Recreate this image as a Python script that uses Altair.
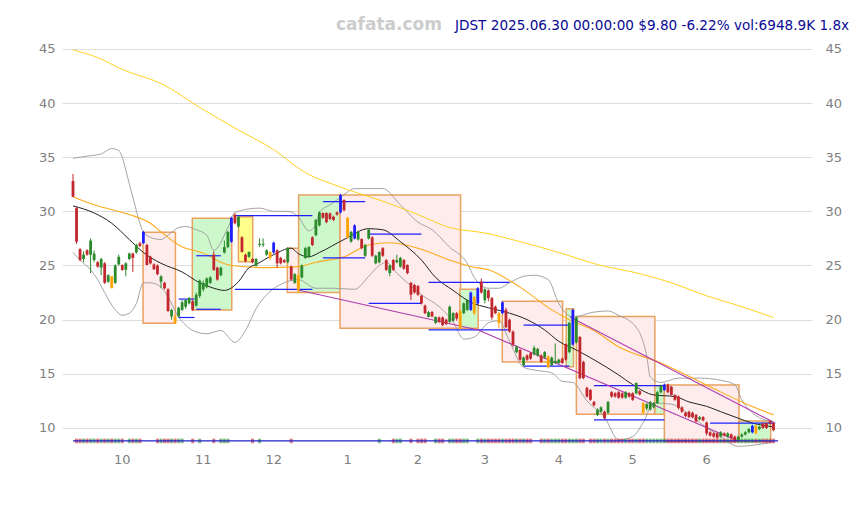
import altair as alt
import pandas as pd

# ---------------- data ----------------
opens = [32.8, 30.3, 26.5, 25.6, 26.4, 26.0, 25.5, 25.3, 24.8, 25.2,
         23.5, 24.0, 23.4, 25.1, 25.05, 24.6, 25.6, 26.1, 26.2, 27.05,
         27.05, 26.9, 25.8, 25.1, 25.0, 23.5, 23.4, 22.8, 20.3, 20.3,
         20.3, 20.9, 21.2, 21.5, 21.7, 21.3, 22.2, 22.8, 23.0, 23.4,
         26.0, 24.8, 24.1, 26.2, 26.7, 27.2, 29.7, 28.6, 27.6, 26.0,
         25.8, 25.6, 24.96, 26.9, 26.9, 26.0, 26.25, 26.2, 26.4, 25.7,
         25.5, 25.3, 24.9, 23.4, 24.1, 23.9, 25.7, 25.8, 27.6, 27.8,
         28.7, 29.85, 29.85, 29.8, 29.5, 29.9, 29.9, 31.05, 29.4, 27.2,
         27.5, 27.4, 27.45, 25.9, 27.5, 27.6, 25.2, 25.3, 26.6, 25.5,
         24.3, 25.5, 25.3, 24.9, 25.5, 25.05, 23.4, 23.2, 23.1, 22.2,
         21.3, 20.25, 20.7, 19.7, 20.2, 20.2, 20.0, 19.8, 19.9, 20.6,
         20.8, 20.6, 20.9, 20.9, 22.1, 21.5, 23.5, 21.8, 22.7, 22.0,
         21.2, 20.6, 20.6, 20.9, 20.0, 18.9, 17.0, 17.2, 15.8, 16.7,
         16.9, 16.8, 16.7, 16.7, 16.5, 16.6, 15.8, 16.0, 16.0, 16.4,
         17.75, 17.0, 17.7, 17.9, 18.4, 16.1, 13.7, 13.5, 12.4, 11.2,
         11.5, 11.5, 11.4, 13.3, 13.2, 13.3, 13.2, 12.8, 13.2, 13.2,
         13.2, 13.4, 12.3, 11.8, 11.7, 11.9, 12.3, 13.3, 13.5, 14.0,
         13.8, 13.05, 12.9, 11.9, 11.4, 11.5, 11.4, 11.2, 10.8, 11.0,
         10.5, 9.6, 9.5, 9.5, 9.2, 9.5, 9.2, 9.4, 9.2, 8.9,
         9.2, 9.4, 9.6, 9.6, 10.2, 9.9, 10.4, 10.45, 10.6, 10.45]

closes = [31.35, 27.2, 25.5, 26.0, 26.0, 27.3, 26.1, 24.9, 25.6, 23.4,
          24.1, 22.9, 25.0, 25.8, 24.6, 25.2, 26.1, 25.7, 26.9, 26.8,
          28.1, 25.05, 25.2, 24.65, 24.2, 24.0, 22.9, 20.8, 20.9, 19.7,
          21.1, 21.6, 21.8, 22.0, 20.9, 22.3, 23.6, 23.4, 23.8, 23.9,
          24.6, 23.7, 24.8, 26.7, 28.1, 29.4, 28.9, 29.5, 26.25, 25.4,
          26.25, 25.3, 25.6, 27.0, 27.0, 26.4, 25.7, 27.1, 25.2, 25.2,
          25.3, 26.6, 23.7, 24.2, 22.7, 25.0, 26.6, 26.7, 26.9, 29.2,
          29.9, 29.4, 29.0, 29.3, 29.2, 29.7, 31.5, 30.1, 27.6, 28.1,
          28.7, 28.1, 26.6, 26.9, 28.3, 25.9, 25.9, 26.25, 25.9, 24.6,
          25.0, 24.6, 25.5, 25.7, 24.7, 24.3, 22.3, 22.5, 22.3, 21.5,
          20.6, 20.7, 20.3, 20.25, 19.8, 19.5, 19.6, 21.2, 20.6, 20.1,
          19.3, 21.5, 21.8, 22.5, 20.6, 22.9, 22.5, 22.8, 22.0, 20.2,
          20.6, 19.7, 21.6, 19.3, 18.9, 17.7, 17.5, 16.3, 16.5, 16.3,
          16.4, 17.4, 17.3, 16.1, 17.0, 15.6, 16.5, 16.2, 16.3, 16.0,
          16.3, 19.7, 20.9, 20.2, 14.6, 14.6, 12.9, 12.6, 12.1, 11.7,
          11.9, 10.9, 12.4, 12.9, 12.9, 12.8, 12.8, 13.3, 12.9, 12.6,
          14.15, 13.1, 11.4, 12.2, 12.4, 12.3, 13.3, 13.9, 14.0, 13.3,
          13.05, 12.6, 11.85, 11.5, 11.1, 11.0, 11.0, 10.6, 11.0, 10.7,
          9.5, 9.3, 9.2, 9.1, 9.6, 9.3, 9.5, 9.1, 8.8, 9.2,
          9.4, 9.6, 9.9, 10.2, 9.5, 10.1, 10.0, 10.0, 10.45, 9.8]

highs = [33.45, 30.4, 26.6, 26.3, 26.5, 27.5, 26.4, 25.4, 25.7, 25.3,
         24.2, 24.0, 25.1, 26.0, 25.1, 25.3, 26.2, 26.2, 27.0, 27.2,
         28.2, 27.0, 25.9, 25.2, 25.1, 24.1, 23.5, 22.9, 21.0, 20.4,
         21.2, 21.8, 21.9, 22.1, 21.8, 22.5, 23.7, 23.6, 23.9, 24.0,
         26.3, 24.9, 24.9, 27.3, 28.2, 29.5, 29.8, 29.6, 27.7, 26.1,
         26.3, 25.7, 25.7, 27.5, 27.5, 26.5, 26.3, 27.2, 26.5, 25.8,
         25.6, 26.7, 25.0, 24.3, 24.2, 25.1, 26.7, 26.8, 27.7, 29.3,
         30.0, 29.9, 29.9, 29.9, 29.6, 30.0, 31.6, 31.1, 29.5, 28.2,
         28.8, 28.2, 27.5, 27.0, 28.4, 27.7, 26.0, 26.3, 26.7, 25.6,
         25.1, 25.6, 26.0, 25.8, 25.6, 25.1, 23.5, 23.3, 23.2, 22.3,
         21.4, 20.8, 20.8, 20.3, 20.3, 20.3, 20.1, 21.3, 20.7, 20.7,
         20.9, 21.6, 21.9, 22.6, 22.2, 23.0, 23.8, 22.9, 22.8, 22.1,
         21.3, 20.7, 21.7, 21.1, 20.1, 19.0, 17.6, 17.3, 16.6, 16.8,
         17.0, 17.6, 17.4, 16.8, 17.1, 16.7, 16.6, 17.8, 16.4, 16.5,
         17.8, 19.8, 21.0, 20.3, 18.5, 16.2, 13.8, 13.6, 12.5, 11.8,
         12.0, 11.6, 12.5, 13.4, 13.3, 13.4, 13.3, 13.4, 13.3, 13.3,
         14.2, 13.5, 12.4, 12.3, 12.5, 12.4, 13.4, 14.0, 14.1, 14.1,
         13.9, 13.1, 13.0, 12.0, 11.5, 11.6, 11.5, 11.3, 11.1, 11.1,
         10.6, 9.7, 9.6, 9.6, 9.7, 9.6, 9.6, 9.5, 9.3, 9.3,
         9.5, 9.7, 10.0, 10.3, 10.3, 10.2, 10.5, 10.5, 10.7, 10.55]

lows = [31.3, 27.0, 25.4, 25.3, 25.9, 24.3, 25.3, 24.8, 24.1, 23.3,
        23.4, 22.9, 23.3, 25.0, 24.5, 24.0, 25.5, 24.4, 26.1, 26.7,
        27.0, 25.0, 25.1, 24.6, 24.1, 22.9, 22.8, 20.7, 20.0, 19.6,
        20.2, 20.8, 21.0, 21.4, 20.8, 21.2, 22.0, 22.6, 22.9, 23.3,
        24.5, 23.6, 24.0, 26.1, 26.6, 27.1, 28.8, 28.5, 26.2, 25.3,
        25.7, 25.2, 24.9, 26.7, 26.7, 25.9, 25.5, 26.1, 24.8, 25.1,
        25.2, 25.2, 23.6, 23.3, 22.5, 23.8, 25.6, 25.7, 26.8, 27.7,
        28.6, 29.3, 28.9, 29.2, 29.1, 29.6, 29.8, 30.0, 27.5, 27.1,
        27.4, 27.3, 26.5, 25.8, 27.4, 25.8, 25.1, 25.2, 25.8, 24.5,
        24.0, 24.5, 25.2, 24.8, 24.6, 24.2, 21.8, 22.4, 22.2, 21.4,
        20.5, 20.2, 20.2, 19.6, 19.7, 19.4, 19.5, 19.7, 19.8, 19.9,
        19.1, 20.5, 20.8, 20.8, 20.4, 21.4, 22.4, 21.5, 21.7, 20.0,
        20.5, 19.2, 20.5, 19.2, 18.8, 17.5, 16.9, 16.2, 15.7, 16.2,
        16.3, 16.7, 16.6, 16.0, 16.4, 15.5, 15.7, 15.9, 15.9, 15.9,
        16.2, 16.9, 17.6, 17.8, 14.5, 14.5, 12.8, 12.5, 12.0, 11.1,
        11.4, 10.8, 11.3, 12.8, 12.8, 12.7, 12.7, 12.7, 12.8, 12.5,
        13.1, 13.0, 11.3, 11.6, 11.6, 11.8, 12.2, 13.2, 13.4, 13.2,
        13.0, 12.5, 11.7, 11.4, 11.0, 10.9, 10.9, 10.5, 10.7, 10.6,
        9.3, 9.2, 9.1, 9.0, 9.1, 9.2, 9.1, 9.0, 8.7, 8.8,
        9.1, 9.3, 9.5, 9.5, 9.4, 9.8, 9.9, 9.9, 10.3, 9.7]

blue_idx = [20, 45, 57, 76, 80, 113, 115, 122, 142, 168, 193]
orange_idx = [11, 29, 56, 64, 78, 110, 114, 121, 135, 162, 194]

# moving averages / bands, read at sample bars
ma20_i = [0, 6, 11, 16, 20, 25, 31, 36, 40, 43, 47, 50, 52, 57, 62, 64, 67, 70, 77, 84, 88, 93, 99, 103,
          108, 113, 118, 124, 129, 134, 138, 143, 148, 155, 159, 165, 171, 175, 180, 184, 189, 193, 199]
ma20_v = [30.5, 29.85, 28.9, 27.4, 26.2, 25.2, 24.4, 23.4, 22.9, 22.7, 23.5, 24.8, 25.1, 26.0, 26.6, 26.1,
          25.8, 26.2, 27.4, 28.4, 28.3, 27.2, 25.5, 23.9, 22.7, 21.6, 21.1, 20.6, 20.0, 19.05, 18.0, 17.2,
          16.3, 14.9, 14.0, 13.05, 12.9, 12.4, 12.0, 11.5, 10.9, 10.45, 10.1]

ma50_i = [0, 6, 16, 22, 25, 30, 38, 42, 45, 55, 64, 69, 77, 84, 90, 98, 107, 113, 118, 127, 136, 141,
          148, 155, 167, 181, 190, 199]
ma50_v = [31.35, 30.6, 29.7, 28.9, 28.1, 26.9, 26.0, 25.3, 25.0, 24.8, 24.9, 25.3, 25.8, 26.9, 27.1, 26.6,
          25.5, 24.9, 24.6, 23.0, 20.9, 20.0, 19.0, 17.5, 16.0, 13.8, 12.4, 11.2]

ma200_i = [0, 7, 14, 25, 37, 47, 57, 64, 67, 73, 78, 87, 98, 107, 117, 127, 138, 150, 159, 170, 180, 189, 199]
ma200_v = [44.9, 44.2, 43.1, 41.8, 39.4, 37.5, 35.7, 34.0, 33.4, 32.6, 32.0, 31.05, 29.7, 28.5, 28.0, 27.2,
           26.2, 25.0, 24.4, 23.4, 22.2, 21.3, 20.2]

upper_i = [0, 4, 8, 11, 13, 14, 15, 17, 20, 22, 25, 27, 30, 32, 35, 38, 40, 44, 46, 53, 57, 61, 64, 67, 69,
           70, 73, 76, 78, 80, 88, 93, 98, 102, 107, 112, 114, 118, 121, 124, 128, 131, 135, 138, 142, 148,
           152, 155, 160, 163, 164, 167, 172, 178, 184, 188, 190, 193, 197, 199]
upper_v = [34.9, 35.1, 35.3, 35.8, 35.6, 35.0, 33.8, 31.3, 28.1, 27.6, 27.4, 27.8, 28.5, 28.6, 28.3, 27.8,
           26.4, 28.5, 29.9, 30.3, 30.0, 30.0, 29.5, 28.2, 28.8, 29.9, 30.6, 31.3, 31.8, 32.1, 32.1, 30.6,
           29.0, 28.3, 26.7, 25.2, 23.9, 22.9, 22.9, 23.4, 24.0, 24.1, 23.7, 21.5, 20.25, 20.7, 20.8, 20.4,
           19.3, 16.6, 14.7, 14.2, 14.6, 14.6, 14.4, 14.0, 12.6, 11.4, 10.7, 10.55]

lower_i = [0, 2, 5, 7, 9, 12, 14, 16, 18, 20, 22, 25, 27, 30, 32, 34, 38, 42, 46, 49, 52, 55, 60, 64, 69,
           74, 80, 84, 87, 89, 92, 95, 99, 104, 108, 111, 114, 118, 121, 124, 128, 132, 136, 139, 142, 146,
           151, 155, 159, 162, 165, 170, 174, 178, 184, 189, 193, 199]
lower_v = [26.2, 25.5, 24.6, 23.7, 22.5, 20.9, 20.4, 20.6, 21.5, 23.4, 23.4, 23.0, 22.1, 20.25, 19.5, 19.0,
           18.7, 19.0, 17.9, 19.0, 21.0, 22.3, 23.4, 23.7, 22.9, 22.9, 22.8, 24.0, 25.0, 25.3, 24.3, 23.4,
           22.3, 21.2, 19.8, 18.2, 18.4, 19.7, 19.9, 18.0, 15.6, 15.3, 15.1, 14.3, 14.2, 12.5, 11.0, 8.9,
           9.2, 10.5, 12.3, 12.2, 11.5, 10.5, 9.2, 8.3, 8.4, 8.7]

# range boxes
box_x0 = [19.9, 33.9, 47.0, 60.9, 64.1, 75.85, 109.9, 121.96, 140.1, 143.0, 165.3, 168.0, 189.2]
box_x1 = [29.1, 45.1, 51.05, 64.1, 75.85, 110.1, 115.1, 139.1, 142.2, 165.3, 168.0, 189.2, 198.2]
box_top = [28.07, 29.36, 29.5, 26.6, 31.5, 31.5, 22.8, 21.7, 21.0, 20.3, 13.9, 13.97, 10.65]
box_bot = [19.67, 20.9, 25.35, 22.5, 22.5, 19.2, 19.2, 16.1, 15.66, 11.27, 11.27, 8.75, 8.75]
box_kind = ["down", "up", "flat", "down", "up", "down", "up", "down", "up", "down", "up", "down", "up"]

# horizontal support / resistance segments
seg_x0 = [30, 30, 35, 35, 46, 46, 71, 71, 84, 84, 101, 101, 128, 128, 148, 148, 181]
seg_x1 = [34.5, 34.5, 42, 42, 68, 68, 83, 83, 99, 99, 124, 124, 141, 141, 168, 168, 199.5]
seg_v = [21.9, 20.2, 25.9, 20.96, 29.6, 22.8, 30.9, 25.7, 27.9, 21.5, 23.45, 19.05, 19.5, 15.7, 13.9,
         10.74, 10.45]

# trend lines
tr_x0 = [63.9, 115.1, 141.2]
tr_y0 = [22.74, 19.05, 20.25]
tr_x1 = [115.1, 188.9, 198.9]
tr_y1 = [19.05, 8.8, 10.55]

# volume marker strip
vol_level = 8.8
vol_idx = [1, 2, 3, 4, 5, 6, 7, 8, 9, 10, 11, 12, 13, 14, 16, 17, 18, 19, 24, 25, 26, 27, 28, 29, 30, 31,
           34, 36, 40, 42, 43, 44, 51, 53, 62, 87, 91, 92, 93, 96, 98, 99, 100, 103, 104, 105, 107, 108,
           109, 110, 111, 112, 115, 116, 117, 118, 119, 120, 121, 122, 123, 124, 125, 126, 127, 128, 129,
           130, 133, 134, 135, 136, 137, 138, 139, 140, 141, 142, 143, 144, 145, 147, 148, 149, 150, 151,
           152, 153, 154, 155, 156, 157, 158, 159, 160, 161, 162, 163, 164, 165, 166, 167, 168, 169, 170,
           171, 172, 173, 174, 175, 176, 177, 178, 179, 180, 181, 182, 183, 184, 185, 186, 187, 188, 189,
           190, 191, 192, 193, 194, 195, 196, 197, 198, 199]

month_idx = [14, 37, 57, 78, 98, 117, 138, 159, 180]
month_lbl = ["10", "11", "12", "1", "2", "3", "4", "5", "6"]
y_ticks = [10, 15, 20, 25, 30, 35, 40, 45]

watermark = "cafata.com"
headline = "JDST 2025.06.30 00:00:00 $9.80 -6.22% vol:6948.9K 1.8x"

# ---------------- frames ----------------
n = len(opens)
kinds = []
for k in range(n):
    if k in blue_idx:
        kinds.append("blue")
    elif k in orange_idx:
        kinds.append("orange")
    elif closes[k] >= opens[k]:
        kinds.append("up")
    else:
        kinds.append("down")
candles = pd.DataFrame({"i": list(range(n)), "o": opens, "c": closes, "h": highs, "l": lows, "kind": kinds})

vol = pd.DataFrame({"i": vol_idx})
vol["dir"] = ["up" if closes[k] >= opens[k] else "down" for k in vol_idx]
vol["y0"] = vol_level - 0.21
vol["y1"] = vol_level + 0.21

boxes = pd.DataFrame({"x0": box_x0, "x1": box_x1, "top": box_top, "bot": box_bot, "kind": box_kind})
segs = pd.DataFrame({"x0": seg_x0, "x1": seg_x1, "v": seg_v})
trends = pd.DataFrame({"x0": tr_x0, "x1": tr_x1, "y0": tr_y0, "y1": tr_y1})
base = pd.DataFrame({"x0": [0], "x1": [200.3], "v": [vol_level]})
months = pd.DataFrame({"i": month_idx, "lbl": month_lbl})

xs = alt.Scale(domain=[-3.125, 209.94], nice=False, zero=False, padding=0)
ys = alt.Scale(domain=[7.78, 48.59], nice=False, zero=False, padding=0)

FONT = "DejaVu Sans"
GRID = "#dddddd"
LBL = "#808080"

x_axis = alt.Axis(values=month_idx, labels=False, grid=True, gridColor=GRID, ticks=False,
                  domain=False, title=None)
y_left = alt.Axis(values=y_ticks, grid=True, gridColor=GRID, ticks=False, domain=False, labelColor=LBL,
                  labelFontSize=13, labelFont=FONT, labelPadding=7, title=None, orient="left")
y_right = alt.Axis(values=y_ticks, grid=False, ticks=False, domain=False, labelColor=LBL,
                   labelFontSize=13, labelFont=FONT, labelPadding=13, title=None, orient="right")

candle_color = alt.Color("kind:N", scale=alt.Scale(domain=["up", "down", "blue", "orange"],
                                                    range=["#2b8a2b", "#c1272d", "#1f1fff", "#ffa500"]),
                         legend=None)

box_layer = alt.Chart(boxes).mark_rect(stroke="#e9a25f", strokeWidth=1.5, opacity=1).encode(
    x=alt.X("x0:Q", scale=xs, axis=None), x2="x1:Q",
    y=alt.Y("top:Q", scale=ys, axis=None), y2="bot:Q",
    fill=alt.Fill("kind:N", scale=alt.Scale(domain=["down", "up", "flat"],
                                             range=["#fdeceb", "#ccf8cc", "#ffff8c"]), legend=None),
)


def line_layer(xi, yv, color, width):
    df = pd.DataFrame({"i": xi, "v": yv})
    return alt.Chart(df).mark_line(color=color, strokeWidth=width, interpolate="monotone").encode(
        x=alt.X("i:Q", scale=xs, axis=None), y=alt.Y("v:Q", scale=ys, axis=None))


upper_layer = line_layer(upper_i, upper_v, "#9a9a9a", 0.9)
lower_layer = line_layer(lower_i, lower_v, "#9a9a9a", 0.9)
ma200_layer = alt.Chart(pd.DataFrame({"i": ma200_i, "v": ma200_v})).mark_line(
    color="#ffd21f", strokeWidth=1, interpolate="monotone").encode(
    x=alt.X("i:Q", scale=xs, axis=None), y=alt.Y("v:Q", scale=ys, axis=y_right))
ma50_layer = line_layer(ma50_i, ma50_v, "#ffaa1a", 1.1)
ma20_layer = line_layer(ma20_i, ma20_v, "#222222", 1.0)

seg_layer = alt.Chart(segs).mark_rule(color="#1f1fff", strokeWidth=1.2).encode(
    x=alt.X("x0:Q", scale=xs, axis=None), x2="x1:Q", y=alt.Y("v:Q", scale=ys, axis=None))

trend_layer = alt.Chart(trends).mark_rule(color="#b03cb0", strokeWidth=1.1).encode(
    x=alt.X("x0:Q", scale=xs, axis=None), x2="x1:Q",
    y=alt.Y("y0:Q", scale=ys, axis=None), y2="y1:Q")

wick_layer = alt.Chart(candles).mark_rule(strokeWidth=1).encode(
    x=alt.X("i:Q", scale=xs, axis=x_axis),
    y=alt.Y("l:Q", scale=ys, axis=y_left), y2="h:Q",
    color=candle_color)

body_layer = alt.Chart(candles).mark_bar(size=2.8).encode(
    x=alt.X("i:Q", scale=xs, axis=None),
    y=alt.Y("o:Q", scale=ys, axis=None), y2="c:Q",
    color=candle_color)

vol_layer = alt.Chart(vol).mark_bar(size=3, opacity=0.6).encode(
    x=alt.X("i:Q", scale=xs, axis=None),
    y=alt.Y("y0:Q", scale=ys, axis=None), y2="y1:Q",
    color=alt.Color("dir:N", scale=alt.Scale(domain=["up", "down"], range=["#3c9c3c", "#cc3a3a"]),
                    legend=None))

base_layer = alt.Chart(base).mark_rule(color="#1f1fcc", strokeWidth=1.3).encode(
    x=alt.X("x0:Q", scale=xs, axis=None), x2="x1:Q", y=alt.Y("v:Q", scale=ys, axis=None))

month_layer = alt.Chart(months).mark_text(
    font=FONT, fontSize=13, color=LBL, align="center", baseline="middle").encode(
    x=alt.X("i:Q", scale=xs, axis=None), y=alt.value(450), text="lbl:N")

wm_layer = alt.Chart(pd.DataFrame({"t": [watermark]})).mark_text(
    font=FONT, fontSize=17, fontWeight="bold", color="#cccccc", align="center", baseline="middle").encode(
    x=alt.value(327), y=alt.value(15), text="t:N")

head_layer = alt.Chart(pd.DataFrame({"t": [headline]})).mark_text(
    font=FONT, fontSize=13.6, color="#0a0a96", align="left", baseline="middle").encode(
    x=alt.value(393), y=alt.value(16), text="t:N")

chart = alt.layer(
    box_layer, upper_layer, lower_layer, ma200_layer, ma50_layer, ma20_layer,
    seg_layer, trend_layer, wick_layer, body_layer, vol_layer, base_layer,
    month_layer, wm_layer, head_layer,
).resolve_axis(y="independent").properties(
    width=750, height=442,
    padding={"left": 54, "top": 2, "right": 44, "bottom": 30},
    autosize=alt.AutoSizeParams(type="none"),
    background="white",
).configure_view(stroke=None)

chart.save("out.html", embed_options={"renderer": "svg", "actions": False})
